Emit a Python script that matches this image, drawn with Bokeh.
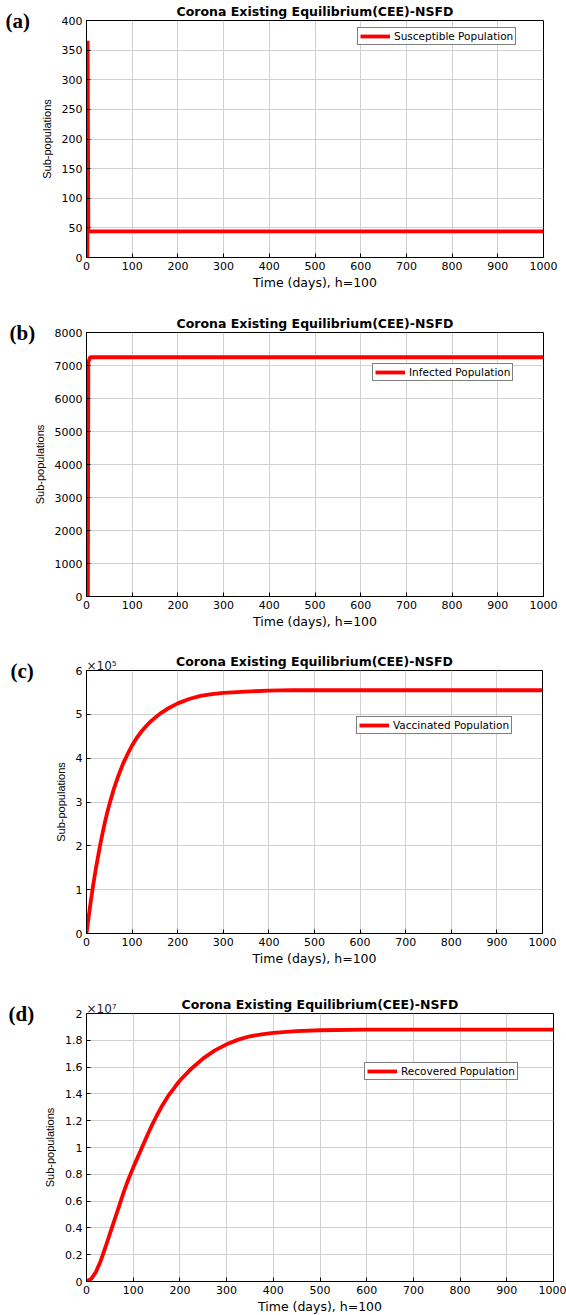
from bokeh.plotting import figure
from bokeh.models import Range1d, FixedTicker, Legend, LegendItem, Title
from bokeh.layouts import column
from bokeh.embed import file_html
from bokeh.resources import INLINE

# ---------------- data ----------------
days_s = [2, 2.5, 4, 1000]
susceptible = [0, 366, 44, 44]

days_i = [3, 4, 8, 1000]
infected = [0, 7100, 7250, 7250]

days_v = [0, 5, 10, 15, 20, 25, 30, 35, 40, 45, 50, 60, 70, 80, 90, 100, 110,
          120, 130, 140, 150, 165, 180, 200, 225, 250, 275, 300, 350, 400, 450,
          500, 1000]
vaccinated = [0, 40000, 78000, 113000, 145000, 174000, 202000, 228000, 252000,
              274000, 294000, 330000, 360000, 387000, 409000, 429000, 446000,
              460000, 472000, 483000, 492000, 504000, 514000, 525000, 535000,
              542000, 546000, 549000, 552000, 554000, 555000, 555000, 555000]

days_r = [0, 10, 20, 30, 40, 50, 60, 70, 80, 90, 100, 110, 120, 130, 140, 150,
          160, 175, 190, 200, 225, 250, 275, 300, 325, 350, 375, 400, 450, 500,
          600, 1000]
recovered = [0, 200000, 700000, 1500000, 2500000, 3550000, 4600000, 5650000,
             6700000, 7650000, 8500000, 9300000, 10100000, 10900000, 11650000,
             12350000, 13000000, 13850000, 14550000, 15000000, 15900000,
             16650000, 17250000, 17700000, 18050000, 18300000, 18450000,
             18550000, 18680000, 18750000, 18800000, 18800000]

x_ticks = [0, 100, 200, 300, 400, 500, 600, 700, 800, 900, 1000]
s_ticks = [0, 50, 100, 150, 200, 250, 300, 350, 400]
i_ticks = [0, 1000, 2000, 3000, 4000, 5000, 6000, 7000, 8000]
v_ticks = [0, 100000, 200000, 300000, 400000, 500000, 600000]
v_tick_labels = ["0", "1", "2", "3", "4", "5", "6"]
r_ticks = [0, 2000000, 4000000, 6000000, 8000000, 10000000, 12000000,
           14000000, 16000000, 18000000, 20000000]
r_tick_labels = ["0", "0.2", "0.4", "0.6", "0.8", "1", "1.2", "1.4", "1.6", "1.8", "2"]

title_text = "Corona Existing Equilibrium(CEE)-NSFD"
x_label = "Time (days), h=100"
y_label = "Sub-populations"

SANS = "DejaVu Sans"
X_MAX = 1000


def make_panel(tag, days, vals, y_max, y_ticks, legend_text, legend_loc,
               left, right, top, fh, bottom, y_labels=None, exponent=None):
    fw = 566 - left - right
    p = figure(frame_width=fw, frame_height=fh,
               min_border_left=left, min_border_right=right,
               min_border_top=top, min_border_bottom=bottom,
               x_range=Range1d(0, X_MAX), y_range=Range1d(0, y_max),
               output_backend="svg", toolbar_location=None,
               background_fill_color="white", border_fill_color="white")
    p.title.text = title_text
    p.title.align = "center"
    p.title.text_font = SANS
    p.title.text_font_size = "12.5px"
    p.title.text_font_style = "bold"
    p.title.text_color = "black"
    p.title.standoff = 3

    r = p.line(days, vals, line_color="#ff0000", line_width=3.8)

    p.xaxis.ticker = FixedTicker(ticks=x_ticks)
    p.yaxis.ticker = FixedTicker(ticks=y_ticks)
    if y_labels is not None:
        p.yaxis.major_label_overrides = {t: s for t, s in zip(y_ticks, y_labels)}
    for ax in (p.xaxis[0], p.yaxis[0]):
        ax.major_tick_in = 4
        ax.major_tick_out = 0
        ax.minor_tick_line_color = None
        ax.axis_line_color = "black"
        ax.major_tick_line_color = "black"
        ax.major_label_text_font = SANS
        ax.major_label_text_font_size = "11px"
        ax.major_label_text_color = "black"
        ax.major_label_standoff = 4
        ax.axis_label_text_font_style = "normal"
        ax.axis_label_text_color = "black"
    p.xaxis.axis_label = x_label
    p.xaxis.axis_label_text_font = SANS
    p.xaxis.axis_label_text_font_size = "12.5px"
    p.xaxis.axis_label_standoff = 2
    p.yaxis.axis_label = y_label
    p.yaxis.axis_label_text_font = "Liberation Sans"
    p.yaxis.axis_label_text_font_size = "11px"
    p.yaxis.axis_label_standoff = 6

    p.xgrid.grid_line_color = "#d0d0d0"
    p.ygrid.grid_line_color = "#d0d0d0"
    p.outline_line_color = "black"
    p.outline_line_width = 1
    p.outline_line_alpha = 1

    legend = Legend(items=[LegendItem(label=legend_text, renderers=[r])],
                    location=legend_loc, orientation="vertical",
                    label_text_font=SANS, label_text_font_size="10.5px",
                    label_text_color="black",
                    glyph_width=30, glyph_height=10, label_height=10,
                    label_standoff=4, padding=2, spacing=0, margin=0,
                    border_line_color="black", border_line_width=1,
                    background_fill_color="white", background_fill_alpha=1)
    p.add_layout(legend)

    # panel tag: a zero-height title row centred on the frame's top edge
    p.add_layout(Title(text=tag, align="left", offset=5 - left,
                       vertical_align="middle", standoff=-60,
                       text_font="Liberation Serif", text_font_style="bold",
                       text_font_size="21px", text_color="black"), "above")
    if exponent is not None:
        p.add_layout(Title(text=exponent, align="left", offset=0,
                           vertical_align="top", standoff=-24,
                           text_font=SANS, text_font_style="normal",
                           text_font_size="12px", text_color="#262626"), "above")
    return p


pa = make_panel("(a)", days_s, susceptible, 400, s_ticks, "Susceptible Population",
                (271, 212), left=86, right=23, top=20, fh=237, bottom=53)
pb = make_panel("(b)", days_i, infected, 8000, i_ticks, "Infected Population",
                (286, 215), left=82, right=27, top=22, fh=264, bottom=54)
pc = make_panel("(c)", days_v, vaccinated, 600000, v_ticks, "Vaccinated Population",
                (270, 199), left=81, right=29, top=20, fh=263, bottom=57,
                y_labels=v_tick_labels, exponent="×10⁵")
pd = make_panel("(d)", days_r, recovered, 20000000, r_ticks, "Recovered Population",
                (278, 201), left=83, right=16, top=23, fh=268, bottom=34,
                y_labels=r_tick_labels, exponent="×10⁷")

layout = column(pa, pb, pc, pd, spacing=0)

open("out.html", "w").write(file_html(layout, INLINE))
